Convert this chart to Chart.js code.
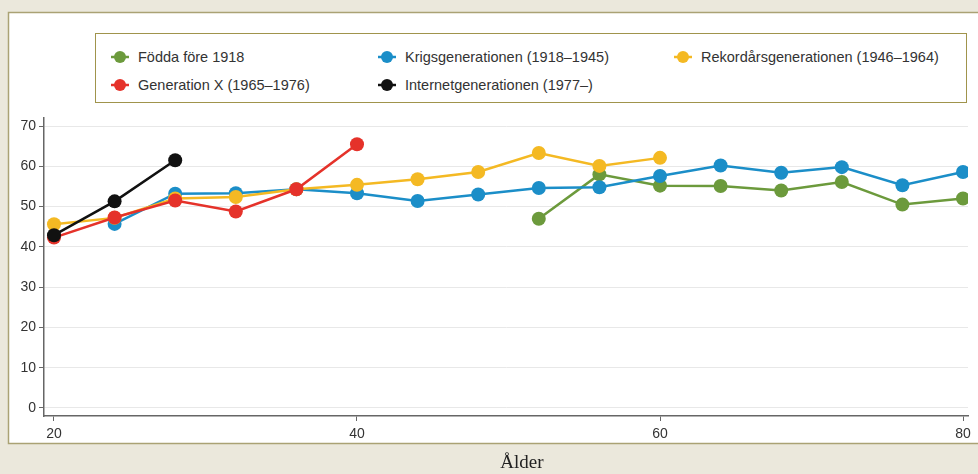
<!DOCTYPE html>
<html lang="sv">

<head>
  <meta charset="UTF-8">
  <title>Ålder</title>
  <style>
    body { margin: 0; background: #ebe8dc; }
    #wrap { position: relative; width: 978px; height: 474px; overflow: hidden; }
    #chart { position: absolute; left: 0; top: 0; }
    #legend {
      position: absolute; left: 95px; top: 33px; width: 872px; height: 70px;
      border: 1px solid #a0944c; background: #fff; box-sizing: border-box;
      font-family: "Liberation Sans", Arial, sans-serif; font-size: 14.5px; color: #333;
    }
    .item { position: absolute; height: 20px; line-height: 20px; white-space: nowrap; }
    .item canvas { position: absolute; left: 0; top: 0; }
    .item span { position: absolute; left: 28px; top: 0; }
    #xtitle {
      position: absolute; left: 0; width: 1044px; top: 451px; text-align: center;
      font-family: "Liberation Serif", "Times New Roman", serif; font-size: 19px; color: #222;
    }
  </style>
</head>

<body>
  <script src="https://cdn.jsdelivr.net/npm/chart.js"></script>

  <div id="wrap">
    <canvas id="chart" width="978" height="474"></canvas>
    <div id="legend"></div>
    <div id="xtitle">Ålder</div>
  </div>

  <script>
    // Ålder (år) och andel per generation
    const ages = [20, 24, 28, 32, 36, 40, 44, 48, 52, 56, 60, 64, 68, 72, 76, 80];
    const fodda = [null, null, null, null, null, null, null, null, 47.0, 58.0, 55.2, 55.1, 54.0, 56.1, 50.5, 52.0];
    const krigs = [null, 45.7, 53.2, 53.3, 54.3, 53.3, 51.4, 53.0, 54.6, 54.8, 57.6, 60.2, 58.4, 59.8, 55.3, 58.6];
    const rekord = [45.6, 47.2, 52.0, 52.4, 54.3, 55.4, 56.8, 58.6, 63.3, 60.1, 62.1, null, null, null, null, null];
    const genx = [42.3, 47.3, 51.5, 48.8, 54.3, 65.5, null, null, null, null, null, null, null, null, null, null];
    const internet = [42.9, 51.3, 61.5, null, null, null, null, null, null, null, null, null, null, null, null, null];

    const labels = ['Födda före 1918', 'Krigsgenerationen (1918–1945)', 'Rekordårsgenerationen (1946–1964)',
      'Generation X (1965–1976)', 'Internetgenerationen (1977–)'];
    const colors = ['#6c9a3c', '#1b8ec8', '#f4b923', '#e5322a', '#111111'];
    const series = [fodda, krigs, rekord, genx, internet];
    const drawOrder = [4, 3, 2, 1, 0]; // svart överst

    const xTicks = [20, 40, 60, 80];
    const yTicks = [0, 10, 20, 30, 40, 50, 60, 70];

    const toPoints = vals => ages.map((a, i) => ({ x: a, y: vals[i] })).filter(p => p.y !== null);

    const datasets = series.map((vals, i) => ({
      label: labels[i],
      data: toPoints(vals),
      borderColor: colors[i],
      backgroundColor: colors[i],
      pointBackgroundColor: colors[i],
      pointBorderColor: colors[i],
      borderWidth: 2.5,
      pointRadius: 7,
      pointBorderWidth: 0,
      tension: 0,
      order: drawOrder[i]
    }));

    // vit panel med ram bakom diagrammet
    const panel = {
      id: 'panel',
      beforeDraw(chart) {
        const c = chart.ctx;
        c.save();
        c.fillStyle = '#ebe8dc';
        c.fillRect(0, 0, chart.width, chart.height);
        c.fillStyle = '#ffffff';
        c.fillRect(8, 12, 980, 431);
        c.strokeStyle = '#aaa274';
        c.lineWidth = 1.5;
        c.strokeRect(8.5, 12.5, 980, 431);
        c.restore();
      }
    };

    const ctx = document.getElementById('chart').getContext('2d');
    const chart = new Chart(ctx, {
      type: 'line',
      data: { datasets },
      plugins: [panel],
      options: {
        responsive: false,
        animation: false,
        layout: { padding: { left: 8, top: 118, right: 10, bottom: 0 } },
        plugins: { legend: { display: false }, tooltip: { enabled: false } },
        scales: {
          x: {
            type: 'linear',
            min: 19.34,
            max: 80.33,
            afterFit: s => { s.height = 58; },
            afterBuildTicks: s => { s.ticks = xTicks.map(v => ({ value: v })); },
            grid: { drawOnChartArea: false, drawTicks: true, tickLength: 5, tickColor: '#666', tickWidth: 1 },
            border: { display: true, color: '#666', width: 1.5 },
            ticks: { color: '#333', padding: 5, font: { family: 'Liberation Sans', size: 14 } }
          },
          y: {
            min: -2,
            max: 72,
            afterFit: s => { s.width = 36; },
            afterBuildTicks: s => { s.ticks = yTicks.map(v => ({ value: v })); },
            grid: { color: '#e8e8e8', lineWidth: 1, drawTicks: true, tickLength: 5, tickColor: '#666' },
            border: { display: true, color: '#666', width: 1.5 },
            ticks: { color: '#333', padding: 3, font: { family: 'Liberation Sans', size: 14 } }
          }
        }
      }
    });

    // förklaring i en ram, tre kolumner
    const legendPos = [[0, 0], [1, 0], [2, 0], [0, 1], [1, 1]];
    const colX = [14, 281, 577];
    const rowY = [13, 41];
    const legend = document.getElementById('legend');
    labels.forEach((lab, i) => {
      const div = document.createElement('div');
      div.className = 'item';
      div.style.left = colX[legendPos[i][0]] + 'px';
      div.style.top = rowY[legendPos[i][1]] + 'px';
      const cv = document.createElement('canvas');
      cv.width = 22; cv.height = 20;
      const g = cv.getContext('2d');
      g.strokeStyle = colors[i]; g.lineWidth = 2.5;
      g.beginPath(); g.moveTo(1, 10); g.lineTo(19, 10); g.stroke();
      g.fillStyle = colors[i];
      g.beginPath(); g.arc(10, 10, 6, 0, Math.PI * 2); g.fill();
      const sp = document.createElement('span');
      sp.textContent = lab;
      div.appendChild(cv);
      div.appendChild(sp);
      legend.appendChild(div);
    });
  </script>
</body>

</html>
